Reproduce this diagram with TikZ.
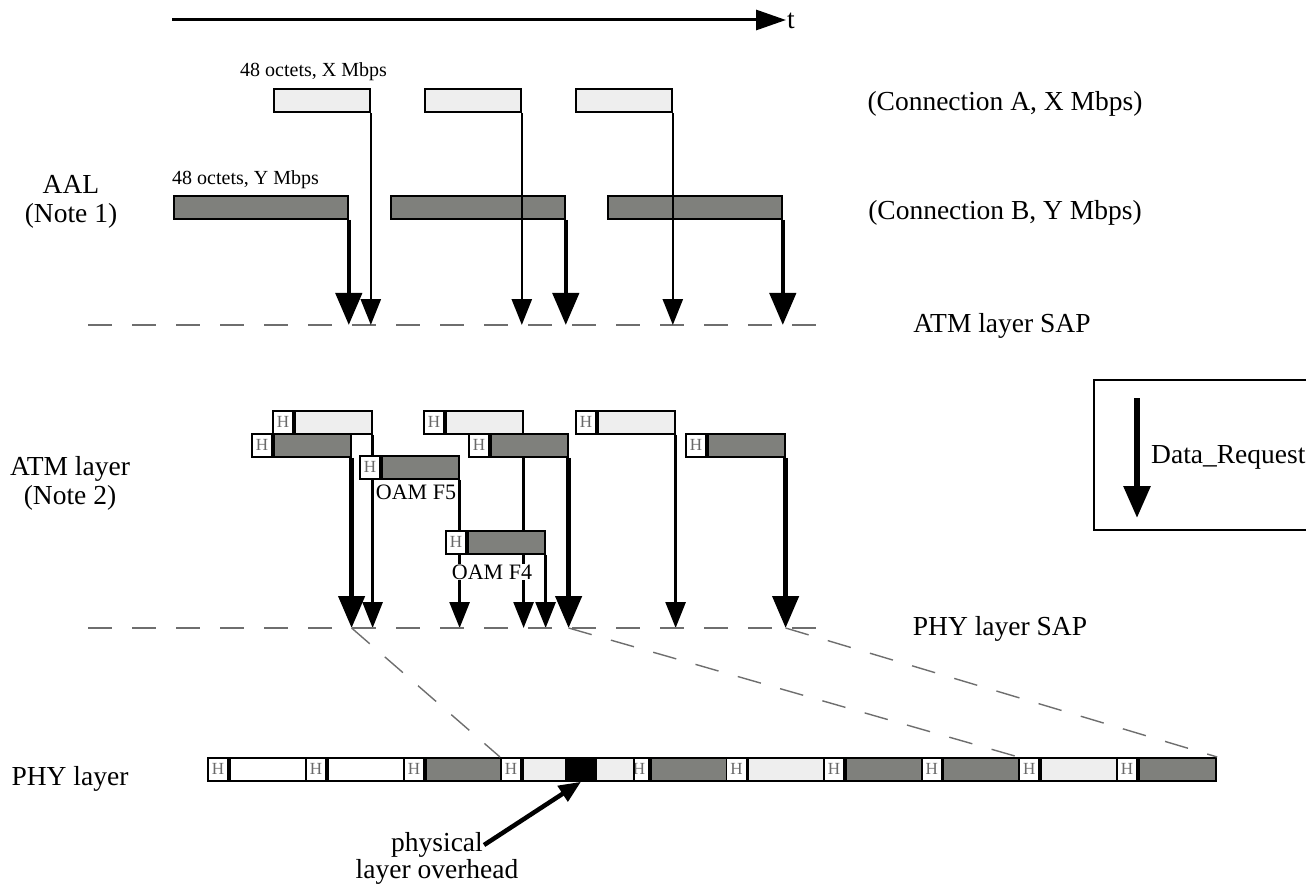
\documentclass[tikz,border=0pt]{standalone}
\usepackage{fontspec}
\setmainfont{Liberation Serif}
\usepackage{tikz}
\usetikzlibrary{arrows.meta, positioning, backgrounds}

\definecolor{celllight}{RGB}{238,238,238}
\definecolor{celldark}{RGB}{127,128,124}
\definecolor{hgray}{RGB}{105,105,105}
\definecolor{sapgray}{RGB}{110,110,110}
\newcommand{\bigtxt}{\fontsize{27.5}{29}\selectfont}
\newcommand{\octtxt}{\fontsize{20}{22}\selectfont}
\newcommand{\oamtxt}{\fontsize{22}{24}\selectfont}

\begin{document}
\begin{tikzpicture}[x=1pt,y=-1pt,
    lab/.style={font=\bigtxt, inner sep=1pt},
    pay/.style={draw, line width=1.8pt, inner sep=0pt, minimum width=77pt,
      minimum height=23pt, anchor=north west},
    cellA/.style={pay, fill=celllight},
    cellB/.style={pay, fill=celldark},
    hbox/.style={draw, line width=1.8pt, fill=white, inner sep=0pt, minimum width=20pt,
      minimum height=23pt, anchor=north west, text=hgray, font=\fontsize{17}{17}\selectfont},
    arrA/.style={line width=2.6pt, -{Triangle[length=26pt,width=20pt]}},
    arrB/.style={line width=4.5pt, -{Triangle[length=32pt,width=26pt]}},
    sap/.style={draw=sapgray, line width=1.4pt, dash pattern=on 24pt off 20pt}]
  \useasboundingbox (0,0) rectangle (1306,885);

  % time axis
  \coordinate (t0) at (172,20);
  \node[lab, anchor=west] (tlab) at (786,21) {t};
  \draw[line width=3pt, -{Triangle[length=30pt,width=20pt]}] (t0) -- (tlab.west |- t0);

  % AAL
  \node[font=\octtxt, anchor=base west, inner sep=0pt] (xlab) at (240,77) {48 octets, X Mbps};
  \node[cellA, minimum width=96pt] (a1) at (273,88) {};
  \node[cellA, minimum width=96pt] (a2) at (424,88) {};
  \node[cellA, minimum width=96pt] (a3) at (575,88) {};
  \node[font=\octtxt, anchor=base west, inner sep=0pt] (ylab) at (172,185) {48 octets, Y Mbps};
  \node[cellB, minimum width=174pt] (b1) at (173,195) {};
  \node[cellB, minimum width=174pt] (b2) at (390,195) {};
  \node[cellB, minimum width=174pt] (b3) at (607,195) {};
  \node[lab] (conA) at (1005,104) {(Connection A, X Mbps)};
  \node[lab] (conB) at (1005,213) {(Connection B, Y Mbps)};
  \node[lab, align=center] (aal) at (71,202) {AAL\\(Note 1)};

  \coordinate (atmL) at (88,325);
  \coordinate (atmR) at (835,325);
  \draw[sap] (atmL) -- (atmR);
  \node[lab] (atmsap) at (1002,326) {ATM layer SAP};
  \foreach \c in {b1,b2,b3}
    \draw[arrB] (\c.south east) -- (\c.south east |- atmL);
  \foreach \c in {a1,a2,a3}
    \draw[arrA] (\c.south east) -- (\c.south east |- atmL);

  % ATM layer
  \foreach \x/\n in {272/1,423/2,575/3} {
    \node[hbox] (ha\n) at (\x,410) {H};
    \node[cellA, right=0pt of ha\n] (ca\n) {};
  }
  \foreach \x/\n in {251/1,468/2,685/3} {
    \node[hbox] (hb\n) at (\x,433) {H};
    \node[cellB, right=0pt of hb\n] (cb\n) {};
  }
  \node[hbox] (hf5) at (359,455) {H};
  \node[cellB, right=0pt of hf5] (cf5) {};
  \node[hbox] (hf4) at (445,530) {H};
  \node[cellB, right=0pt of hf4] (cf4) {};
  \node[font=\oamtxt, fill=white, inner sep=0.5pt] (f5lab) at (416,492) {OAM F5};
  \node[font=\oamtxt, fill=white, inner sep=1pt] (f4lab) at (492,572) {OAM F4};
  \node[lab, align=center] (atmlab) at (70,483) {ATM layer\\(Note 2)};

  \coordinate (phyL) at (88,628);
  \coordinate (phyR) at (835,628);
  \draw[sap] (phyL) -- (phyR);
  \node[lab] (physap) at (1000,629) {PHY layer SAP};
  \begin{pgfonlayer}{background}
    \foreach \c in {ca1,ca2,ca3,cf5,cf4}
      \draw[arrA] (\c.south east) -- (\c.south east |- phyL);
    \foreach \c in {cb1,cb2,cb3}
      \draw[arrB] (\c.south east) -- (\c.south east |- phyL);
  \end{pgfonlayer}

  % PHY layer
  \foreach \x/\f/\n in {207/white/1, 305/white/2, 403/celldark/3, 628/celldark/5,
      725.6/celllight/6, 823.2/celldark/7, 920.8/celldark/8, 1018.4/celllight/9,
      1116/celldark/10} {
    \node[hbox] (ph\n) at (\x,757) {H};
    \node[pay, fill=\f, minimum width=77.6pt, right=0pt of ph\n] (pp\n) {};
  }
  \node[hbox] (ph4) at (500,757) {H};
  \node[cellA, minimum width=43pt, right=0pt of ph4] (pp4) {};
  \node[pay, fill=black, minimum width=27pt, right=0pt of pp4] (ovh) {};
  \node[cellA, minimum width=38pt, right=0pt of ovh] (pp4b) {};
  \node[lab] (phylab) at (70,779) {PHY layer};

  \draw[sap] (cb1.south east |- phyL) -- (ph4.north west);
  \draw[sap] (cb2.south east |- phyL) -- (ph9.north west);
  \draw[sap] (cb3.south east |- phyL) -- (pp10.north east);

  \node[lab] (phys) at (437,845) {physical};
  \node[lab, below=0pt of phys] (lover) {layer overhead};
  \draw[line width=4.5pt, -{Triangle[length=22pt,width=18pt]}] (phys.east) -- (ovh.south);

  % legend
  \node[draw, line width=1.5pt, inner sep=0pt, minimum width=240pt, minimum height=150pt,
    anchor=north west] (legend) at (1093,379) {};
  \coordinate (ltop) at (1137,398);
  \coordinate (lbot) at (1137,518);
  \draw[line width=6pt, -{Triangle[length=32pt,width=26pt]}] (ltop) -- (lbot);
  \node[lab, anchor=west] (dreq) at (1150,457) {Data\_Request};
\end{tikzpicture}
\end{document}
